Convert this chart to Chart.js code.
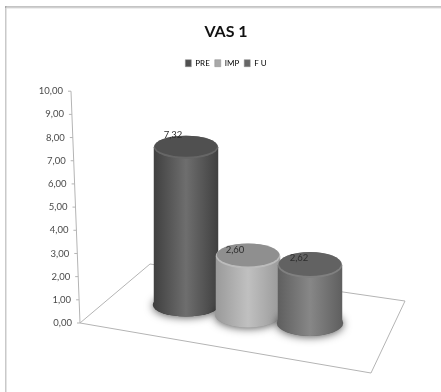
<!DOCTYPE html>
<html>
<head>
<meta charset="utf-8">
<script src="https://cdn.jsdelivr.net/npm/chart.js@4/dist/chart.umd.js"></script>
<style>
  html, body { margin: 0; padding: 0; background: #fff; }
  canvas { display: block; }
</style>
</head>
<body>
<canvas id="vas" width="441" height="392"></canvas>
<script>
const categories = ['PRE', 'IMP', 'F U'];
const values = [7.32, 2.60, 2.62];
const tickStep = 1;
const axisMax = 10;
const faceColors = ['#505050', '#8f8f8f', '#626262'];
const edgeColors = ['#404040', '#9a9a9a', '#5f5f5f'];
const coreColors = ['#6e6e6e', '#c0c0c0', '#878787'];
const rimColors = ['#666666', '#bcbcbc', '#808080'];
const legendColors = ['#505050', '#a8a8a8', '#666666'];

const FONT = 'Lato, "Open Sans", sans-serif';

// Oblique view of the chart box: each bar stands further back on the floor,
// so it is lifted above the front edge and foreshortened a little.
const floorLift = [18, 8, 0];
const foreshorten = [0.93, 0.98, 0.955];
const labelShift = [[-13, -12], [-13, -6], [-11, -7]];
const capRadiusY = [11.5, 12.5, 13];
const widthStretch = 1.04;

const comma = v => v.toFixed(2).replace('.', ',');

function cylinderGeometry(el, i) {
  const rx = el.width * widthStretch / 2;
  const baseY = el.base - floorLift[i];
  const topY = baseY - (el.base - el.y) * foreshorten[i];
  return { cx: el.x, rx, ry: capRadiusY[i], baseY, topY };
}

function drawCylinder(ctx, el, i) {
  const { cx, rx, ry, baseY, topY } = cylinderGeometry(el, i);

  // soft contact shadow on the floor
  ctx.save();
  ctx.shadowColor = 'rgba(0,0,0,0.65)';
  ctx.shadowBlur = 9;
  ctx.shadowOffsetY = 1;
  ctx.fillStyle = edgeColors[i];
  ctx.beginPath();
  ctx.ellipse(cx, baseY, rx + 1, ry, 0, 0, Math.PI * 2);
  ctx.fill();
  ctx.restore();

  // curved wall
  const wall = ctx.createLinearGradient(cx - rx, 0, cx + rx, 0);
  wall.addColorStop(0, edgeColors[i]);
  wall.addColorStop(0.5, coreColors[i]);
  wall.addColorStop(1, edgeColors[i]);
  ctx.fillStyle = wall;
  ctx.beginPath();
  ctx.moveTo(cx - rx, topY);
  ctx.lineTo(cx - rx, baseY);
  ctx.ellipse(cx, baseY, rx, ry, 0, Math.PI, 0, true);
  ctx.lineTo(cx + rx, topY);
  ctx.closePath();
  ctx.fill();

  // flat cap with a lighter bevel along the front edge
  ctx.fillStyle = rimColors[i];
  ctx.beginPath();
  ctx.ellipse(cx, topY, rx, ry, 0, 0, Math.PI * 2);
  ctx.fill();
  ctx.fillStyle = faceColors[i];
  ctx.beginPath();
  ctx.ellipse(cx, topY - 1, rx - 1, ry - 1, 0, 0, Math.PI * 2);
  ctx.fill();
}

class CylinderController extends Chart.BarController {
  draw() {
    const ctx = this.chart.ctx;
    const bars = this.getMeta().data;
    bars.forEach((el, i) => drawCylinder(ctx, el, i));
    ctx.save();
    ctx.font = '9.5px ' + FONT;
    ctx.fillStyle = '#2e2e2e';
    ctx.textAlign = 'center';
    ctx.textBaseline = 'middle';
    bars.forEach((el, i) => {
      const { cx, topY } = cylinderGeometry(el, i);
      ctx.fillText(comma(values[i]), cx + labelShift[i][0], topY + labelShift[i][1]);
    });
    ctx.restore();
  }
}
CylinderController.id = 'cylinder';
CylinderController.defaults = Chart.BarController.defaults;
Chart.register(CylinderController);

// Page frame, floor and the leaning value axis sit underneath the cylinders.
const stage = {
  id: 'stage',
  beforeDatasetsDraw(chart) {
    const { ctx, scales: { y } } = chart;
    const y0 = y.getPixelForValue(0);
    const yMax = y.getPixelForValue(axisMax);
    const axisX = py => 71 + (py - yMax) / (y0 - yMax) * 9;

    ctx.save();
    ctx.fillStyle = '#c9c9c9';
    ctx.fillRect(5, 6, 1.5, 386);
    ctx.fillStyle = '#8a8a8a';
    ctx.fillRect(5, 6.5, 436, 1);
    ctx.fillStyle = '#dddddd';
    ctx.fillRect(6, 7.5, 435, 1);

    ctx.strokeStyle = '#b4b4b4';
    ctx.lineWidth = 1;
    ctx.beginPath();
    ctx.moveTo(80, y0);
    ctx.lineTo(150, y0 - 59);
    ctx.lineTo(405, y0 - 22);
    ctx.lineTo(371, y0 + 50);
    ctx.closePath();
    ctx.stroke();

    ctx.beginPath();
    ctx.moveTo(axisX(yMax), yMax);
    ctx.lineTo(axisX(y0), y0);
    y.ticks.forEach(t => {
      const py = y.getPixelForValue(t.value);
      ctx.moveTo(axisX(py) - 3, py);
      ctx.lineTo(axisX(py), py);
    });
    ctx.stroke();

    ctx.font = '9.5px ' + FONT;
    ctx.fillStyle = '#4a4a4a';
    ctx.textAlign = 'right';
    ctx.textBaseline = 'middle';
    y.ticks.forEach(t => {
      const py = y.getPixelForValue(t.value);
      ctx.fillText(t.label, axisX(py) - 8, py);
    });
    ctx.restore();
  }
};

new Chart(document.getElementById('vas'), {
  type: 'cylinder',
  data: {
    labels: categories,
    datasets: [{
      label: 'VAS 1',
      data: values,
      backgroundColor: legendColors,
      barPercentage: 1,
      categoryPercentage: 1,
      clip: false
    }]
  },
  options: {
    responsive: false,
    animation: false,
    layout: { padding: { left: 111, right: 100, top: 14, bottom: 69 } },
    plugins: {
      tooltip: { enabled: false },
      title: {
        display: true,
        text: 'VAS 1',
        color: '#111111',
        font: { family: FONT, size: 16, weight: 'bold' },
        padding: { top: 8, bottom: 13 }
      },
      legend: {
        position: 'top',
        labels: {
          boxWidth: 6,
          boxHeight: 7,
          padding: 5,
          color: '#595959',
          font: { family: FONT, size: 8 },
          generateLabels: () => categories.map((text, i) => ({
            text,
            fillStyle: legendColors[i],
            strokeStyle: '#8c8c8c',
            lineWidth: 0.5,
            index: i
          }))
        }
      }
    },
    scales: {
      x: {
        type: 'category',
        position: 'top',
        ticks: { display: false },
        grid: { display: false },
        border: { display: false },
        afterFit: s => { s.height = 14; }
      },
      y: {
        type: 'linear',
        min: 0,
        max: axisMax,
        ticks: { display: false, stepSize: tickStep, callback: comma },
        grid: { display: false },
        border: { display: false },
        afterFit: s => { s.width = 44; }
      }
    }
  },
  plugins: [stage]
});
</script>
</body>
</html>
